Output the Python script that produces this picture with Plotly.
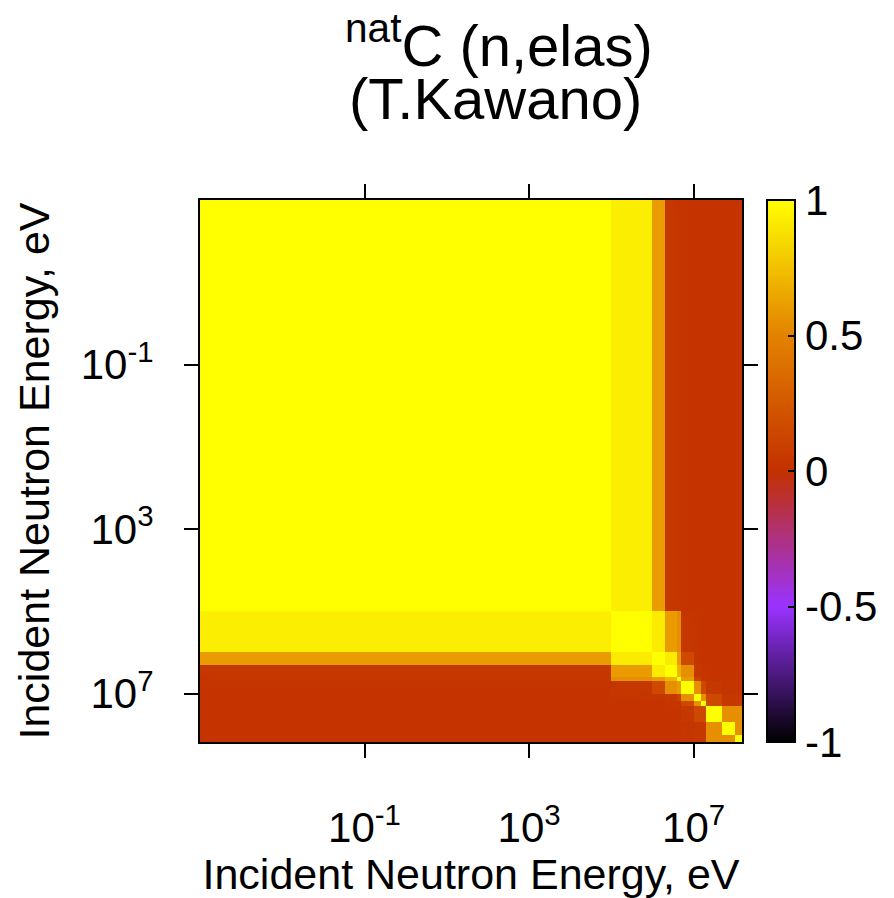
import plotly.graph_objects as go

# Energy group boundaries (eV)
edges = [1e-5, 1e5, 1e6, 2e6, 4e6, 5e6, 1e7, 1.5e7, 2e7, 5e7, 1e8, 1.5e8]

# Correlation matrix rows (symmetric)
row_a = [1.00, 0.93, 0.60, 0.04, 0.03, 0.02, 0.02, 0.02, 0.02, 0.02, 0.02]
row_b = [0.93, 1.00, 0.92, 0.60, 0.55, 0.04, 0.03, 0.02, 0.02, 0.02, 0.02]
row_c = [0.60, 0.92, 1.00, 0.92, 0.60, 0.15, 0.03, 0.02, 0.02, 0.02, 0.02]
row_d = [0.04, 0.60, 0.92, 1.00, 0.70, 0.55, 0.05, 0.03, 0.02, 0.02, 0.02]
row_e = [0.03, 0.55, 0.60, 0.70, 1.00, 0.60, 0.10, 0.03, 0.02, 0.02, 0.02]
row_f = [0.02, 0.04, 0.15, 0.55, 0.60, 1.00, 0.55, 0.15, 0.05, 0.03, 0.03]
row_g = [0.02, 0.03, 0.03, 0.05, 0.10, 0.55, 1.00, 0.55, 0.15, 0.05, 0.05]
row_h = [0.02, 0.02, 0.02, 0.03, 0.03, 0.15, 0.55, 1.00, 0.15, 0.05, 0.05]
row_i = [0.02, 0.02, 0.02, 0.02, 0.02, 0.05, 0.15, 0.15, 1.00, 0.55, 0.55]
row_j = [0.02, 0.02, 0.02, 0.02, 0.02, 0.03, 0.05, 0.05, 0.55, 1.00, 0.55]
row_k = [0.02, 0.02, 0.02, 0.02, 0.02, 0.03, 0.05, 0.05, 0.55, 0.55, 1.00]
corr = [row_a, row_b, row_c, row_d, row_e, row_f, row_g, row_h, row_i, row_j, row_k]

tick_vals = [1e-1, 1e3, 1e7]
tick_text = ["10<sup>-1</sup>", "10<sup>3</sup>", "10<sup>7</sup>"]
cb_vals = [-1, -0.5, 0, 0.5, 1]
cb_text = ["-1", "-0.5", "0", "0.5", "1"]

FONT = "Liberation Sans, Arial, Helvetica, sans-serif"

colorscale = [
    [0.0, "#000000"],
    [0.25, "#9933ff"],
    [0.5, "#c33000"],
    [0.75, "#e38200"],
    [1.0, "#ffff00"],
]

fig = go.Figure(
    go.Heatmap(
        x=edges, y=edges, z=corr,
        zmin=-1, zmax=1, colorscale=colorscale, zsmooth=False,
        colorbar=dict(
            x=1.046, xanchor="left", y=0.5, yanchor="middle",
            len=1.0, lenmode="fraction", thickness=28, thicknessmode="pixels",
            outlinewidth=2, outlinecolor="black",
            tickvals=cb_vals, ticktext=cb_text,
            ticks="inside", ticklen=8, tickcolor="black", tickwidth=1.5,
            tickfont=dict(family=FONT, size=42, color="black"),
            xpad=0, ypad=0,
        ),
        showscale=True,
    )
)

axis_common = dict(
    type="log",
    showgrid=False, zeroline=False,
    showline=True, linewidth=2, linecolor="black", mirror="ticks",
    ticks="outside", ticklen=14, tickwidth=1.5, tickcolor="black",
    tickvals=tick_vals, ticktext=tick_text,
    tickfont=dict(family=FONT, size=42, color="black"),
)

fig.update_layout(
    width=894, height=898,
    margin=dict(l=200, r=152, t=200, b=156, autoexpand=False),
    paper_bgcolor="white", plot_bgcolor="white",
    xaxis=dict(**axis_common, range=[-5, 8.1761],
               ticklabelstandoff=34,
               title=dict(text="Incident Neutron Energy, eV",
                          font=dict(family=FONT, size=43, color="black"),
                          standoff=12)),
    yaxis=dict(**axis_common, range=[8.1761, -5],
               ticklabelstandoff=22,
               title=dict(text="Incident Neutron Energy, eV",
                          font=dict(family=FONT, size=43, color="black"),
                          standoff=18)),
    annotations=[
        dict(text="<sup>nat</sup>C (n,elas)", x=0.552, y=1.292, xref="paper", yref="paper",
             xanchor="center", yanchor="middle", showarrow=False,
             font=dict(family=FONT, size=58, color="black")),
        dict(text="(T.Kawano)", x=0.545, y=1.188, xref="paper", yref="paper",
             xanchor="center", yanchor="middle", showarrow=False,
             font=dict(family=FONT, size=58, color="black")),
    ],
)

fig.write_html("out.html")
